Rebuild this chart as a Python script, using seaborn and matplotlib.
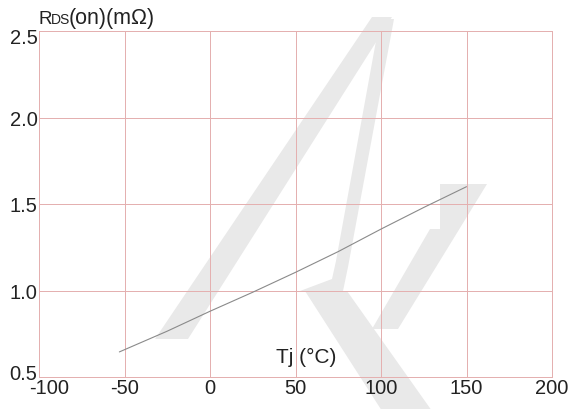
import numpy as np
import pandas as pd
import seaborn as sns
import matplotlib.pyplot as plt
import matplotlib.transforms as mtrans
from matplotlib.patches import Polygon

# courbe RDS(on) en fonction de Tj
tj = [-53, -25, 0, 25, 50, 75, 100, 125, 150]
rds = [0.645, 0.765, 0.88, 0.99, 1.105, 1.225, 1.355, 1.48, 1.6]
xticks = [-100, -50, 0, 50, 100, 150, 200]
yticks = [0.5, 1.0, 1.5, 2.0, 2.5]

data = pd.DataFrame({"Tj": tj, "Rds": rds})

sns.set_theme(style="white")
plt.rcParams["font.family"] = ["Liberation Sans", "DejaVu Sans"]
plt.rcParams["axes.unicode_minus"] = False

grid_col = "#e4b0b0"
txt_col = "#222222"
fig = plt.figure(figsize=(5.71, 4.10), dpi=100)
ax = fig.add_axes([39 / 571, 1 - 378 / 410, 513 / 571, 346 / 410])

# filigrane gris (decor, en coordonnees pixels de la figure)
def px(pts):
    return [((x - 39) / 513, (378 - y) / 346) for x, y in pts]

wm = "#e9e9e9"
shapes = [
    [(155, 340), (188, 340), (392, 18), (372, 18)],
    [(380, 20), (394, 20), (348, 268), (343, 292), (300, 292), (332, 280), (336, 262)],
    [(305, 292), (347, 292), (432, 412), (382, 412)],
    [(440, 185), (487, 185), (398, 330), (372, 330), (430, 230), (440, 230)],
]
for s in shapes:
    ax.add_patch(Polygon(px(s), closed=True, transform=ax.transAxes,
                         facecolor=wm, edgecolor="none", zorder=0.1, clip_on=False))

sns.lineplot(data=data, x="Tj", y="Rds", ax=ax, color="#8a8a8a", linewidth=0.8, zorder=3)

ax.set_xlim(-100, 200)
ax.set_ylim(0.5, 2.5)
ax.set_xticks(xticks)
ax.set_yticks(yticks)
ax.set_xticklabels([str(v) for v in xticks])
ax.set_yticklabels([f"{v:.1f}" for v in yticks])
ax.tick_params(length=0, labelsize=14.5, colors=txt_col, pad=1)
ax.grid(True, color=grid_col, linewidth=0.72, zorder=0.5, antialiased=False)
ax.set_axisbelow(True)
for sp in ax.spines.values():
    sp.set_color(grid_col)
    sp.set_linewidth(0.72)
    sp.set_antialiased(False)
ax.set_xlabel("")
ax.set_ylabel("")

# decalage des etiquettes des coins comme sur l'original
lab_x = ax.get_xticklabels()
lab_x[0].set_transform(lab_x[0].get_transform() + mtrans.ScaledTranslation(10 / 100, 0, fig.dpi_scale_trans))
lab_y = ax.get_yticklabels()
lab_y[0].set_transform(lab_y[0].get_transform() + mtrans.ScaledTranslation(0, 5 / 100, fig.dpi_scale_trans))
lab_y[-1].set_transform(lab_y[-1].get_transform() + mtrans.ScaledTranslation(0, -4 / 100, fig.dpi_scale_trans))

# titre axe y : R + DS en petit
base = 1 - 24 / 410
fig.text(38 / 571, base, "R", fontsize=13.5, color=txt_col, va="baseline")
fig.text(51 / 571, base, "DS", fontsize=10, color=txt_col, va="baseline")
fig.text(69 / 571, base, "(on)(mΩ)", fontsize=15.5, color=txt_col, va="baseline")

ax.text(56, 0.62, "Tj (°C)", fontsize=15, color=txt_col, ha="center", va="center")

fig.savefig("out.png", dpi=100)
